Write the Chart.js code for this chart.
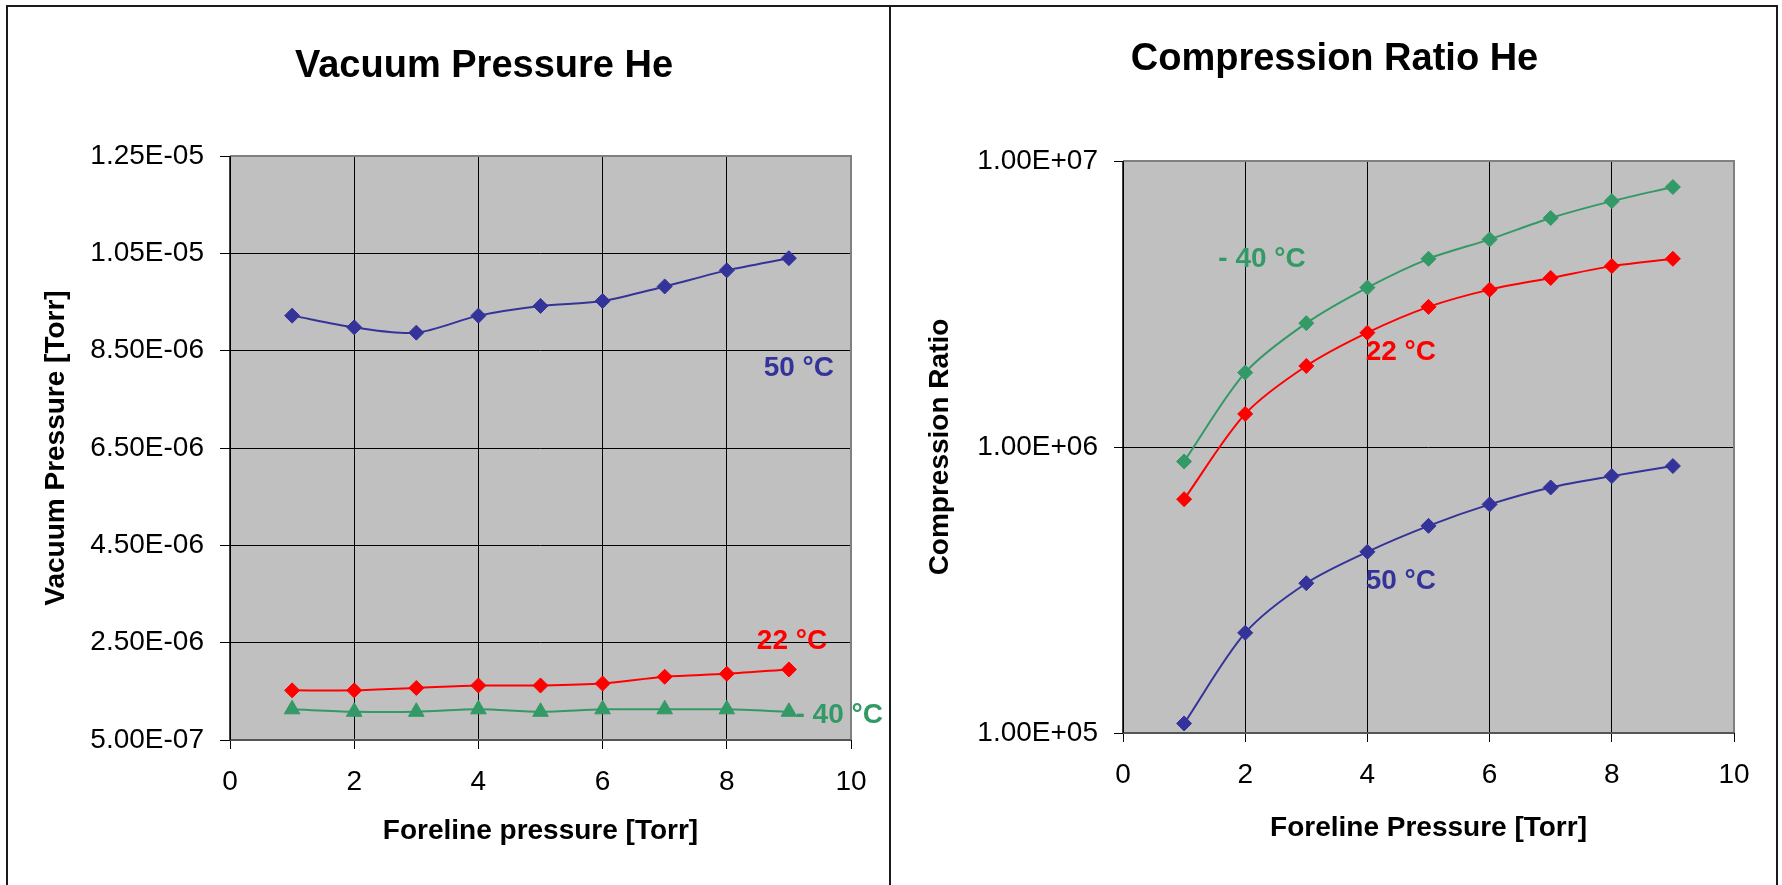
<!DOCTYPE html>
<html><head><meta charset="utf-8">
<script src="https://cdn.jsdelivr.net/npm/chart.js@4.4.0/dist/chart.umd.min.js"></script>
<style>
html,body{margin:0;padding:0;background:#fff;}
#wrap{position:relative;width:1782px;height:885px;overflow:hidden;}
canvas{position:absolute;top:0;}
#c1{left:0}
#c2{left:890px}
.frame{position:absolute;left:6px;top:5px;width:1772px;height:1000px;border:2px solid #1a1a1a;box-sizing:border-box;}
.divider{position:absolute;left:889px;top:5px;width:2px;height:1000px;background:#1a1a1a;}
</style></head>
<body><div id="wrap">
<canvas id="c1" width="890" height="885"></canvas>
<canvas id="c2" width="892" height="885"></canvas>
<div class="frame"></div><div class="divider"></div>
</div>
<script>
// ---- data ----
const foreline = [1, 2, 3, 4, 5, 6, 7, 8, 9];
const vac50  = [9.22e-6, 8.98e-6, 8.87e-6, 9.22e-6, 9.42e-6, 9.52e-6, 9.82e-6, 1.015e-5, 1.040e-5];
const vac22  = [1.52e-6, 1.52e-6, 1.57e-6, 1.62e-6, 1.62e-6, 1.66e-6, 1.80e-6, 1.86e-6, 1.95e-6];
const vacM40 = [1.13e-6, 1.08e-6, 1.08e-6, 1.13e-6, 1.08e-6, 1.13e-6, 1.13e-6, 1.13e-6, 1.08e-6];
const cr50  = [1.08e5, 2.24e5, 3.34e5, 4.30e5, 5.30e5, 6.30e5, 7.22e5, 7.91e5, 8.58e5];
const cr22  = [6.57e5, 1.305e6, 1.92e6, 2.51e6, 3.09e6, 3.55e6, 3.90e6, 4.29e6, 4.55e6];
const crM40 = [8.9e5, 1.82e6, 2.71e6, 3.61e6, 4.55e6, 5.32e6, 6.32e6, 7.24e6, 8.11e6];

const xTicks = [0, 2, 4, 6, 8, 10];
const vacTicks = [5e-7, 2.5e-6, 4.5e-6, 6.5e-6, 8.5e-6, 1.05e-5, 1.25e-5];
const vacTickLabels = ['5.00E-07', '2.50E-06', '4.50E-06', '6.50E-06', '8.50E-06', '1.05E-05', '1.25E-05'];
const crTicks = [1e5, 1e6, 1e7];
const crTickLabels = ['1.00E+05', '1.00E+06', '1.00E+07'];

const seriesNames = ['50 °C', '22 °C', '- 40 °C'];
const colors = ['#333399', '#FF0000', '#339966'];

const FONT = '"Liberation Sans", Arial, sans-serif';
Chart.defaults.font.family = FONT;
Chart.defaults.color = '#000';

function pts(ys) { return foreline.map((x, i) => ({x: x, y: ys[i]})); }

function ds(label, ys, color, style) {
  return {
    label: label, data: pts(ys), borderColor: color, backgroundColor: color,
    borderWidth: 2, pointStyle: style, pointRadius: style === 'triangle' ? 9 : 7.5,
    pointBorderWidth: 1, pointBorderColor: color, tension: 0.3, fill: false
  };
}

function decor(cfg) {
  return {
    id: 'decor' + cfg.name,
    beforeDraw(chart) {
      const {ctx, chartArea: a} = chart;
      ctx.save();
      ctx.fillStyle = '#C0C0C0';
      ctx.fillRect(a.left, a.top, a.right - a.left, a.bottom - a.top);
      ctx.restore();
    },
    beforeDatasetsDraw(chart) {
      const {ctx, chartArea: a} = chart;
      ctx.save();
      ctx.strokeStyle = '#808080'; ctx.lineWidth = 2;
      ctx.beginPath();
      ctx.moveTo(a.left, a.top); ctx.lineTo(a.right, a.top);
      ctx.lineTo(a.right, a.bottom); ctx.stroke();
      ctx.strokeStyle = '#555'; ctx.beginPath();
      ctx.moveTo(a.left, a.bottom); ctx.lineTo(a.right, a.bottom); ctx.stroke();
      ctx.strokeStyle = '#000'; ctx.lineWidth = 1.5;
      ctx.beginPath(); ctx.moveTo(a.left, a.top); ctx.lineTo(a.left, a.bottom); ctx.stroke();
      ctx.restore();
    },
    afterDraw(chart) {
      const {ctx} = chart;
      ctx.save();
      ctx.textBaseline = 'middle';
      ctx.textAlign = 'center';
      ctx.fillStyle = '#000';
      ctx.font = 'bold 38px ' + FONT;
      ctx.fillText(cfg.title, cfg.titleX, cfg.titleY);
      ctx.font = 'bold 28px ' + FONT;
      cfg.labels.forEach(l => {
        ctx.fillStyle = l.color;
        ctx.fillText(l.text, chart.scales.x.getPixelForValue(l.x), chart.scales.y.getPixelForValue(l.y));
      });
      ctx.restore();
    }
  };
}

function xScale(height, title) {
  return {
    type: 'linear', min: 0, max: 10,
    afterBuildTicks: s => { s.ticks = xTicks.map(v => ({value: v})); },
    ticks: { font: {size: 28}, padding: 16, maxRotation: 0, callback: v => String(v) },
    grid: { color: '#000', lineWidth: 1, tickLength: 9, drawTicks: true },
    border: { display: false },
    title: { display: true, text: title, font: {size: 28, weight: 'bold'}, padding: {top: 0, bottom: 0} },
    afterFit: s => { s.height = height; }
  };
}

// ---- chart 1: vacuum pressure ----
new Chart(document.getElementById('c1'), {
  type: 'line',
  data: { datasets: [
    ds(seriesNames[0], vac50, colors[0], 'rectRot'),
    ds(seriesNames[1], vac22, colors[1], 'rectRot'),
    ds(seriesNames[2], vacM40, colors[2], 'triangle')
  ]},
  options: {
    responsive: false, animation: false, devicePixelRatio: 1,
    layout: { padding: { left: 0, right: 39, top: 156, bottom: 37 } },
    plugins: { legend: {display: false}, title: {display: false}, tooltip: {enabled: false} },
    scales: {
      x: xScale(108, 'Foreline pressure [Torr]'),
      y: {
        type: 'linear', min: vacTicks[0], max: vacTicks[vacTicks.length - 1],
        afterBuildTicks: s => { s.ticks = vacTicks.map(v => ({value: v})); },
        ticks: { font: {size: 28}, padding: 16, callback: (v, i) => vacTickLabels[i] },
        grid: { color: '#000', lineWidth: 1, tickLength: 10, drawTicks: true },
        border: { display: false },
        title: { display: true, text: 'Vacuum Pressure [Torr]', font: {size: 28, weight: 'bold'}, padding: {top: 39, bottom: 0} },
        afterFit: s => { s.width = 230; }
      }
    }
  },
  plugins: [decor({
    name: 'A', title: 'Vacuum Pressure He', titleX: 484, titleY: 67,
    labels: [
      {text: seriesNames[0], color: colors[0], x: 9.16, y: 8.13e-6},
      {text: seriesNames[1], color: colors[1], x: 9.05, y: 2.52e-6},
      {text: seriesNames[2], color: colors[2], x: 9.81, y: 1.0e-6}
    ]
  })]
});

// ---- chart 2: compression ratio ----
new Chart(document.getElementById('c2'), {
  type: 'line',
  data: { datasets: [
    ds(seriesNames[0], cr50, colors[0], 'rectRot'),
    ds(seriesNames[1], cr22, colors[1], 'rectRot'),
    ds(seriesNames[2], crM40, colors[2], 'rectRot')
  ]},
  options: {
    responsive: false, animation: false, devicePixelRatio: 1,
    layout: { padding: { left: 0, right: 48, top: 161, bottom: 40 } },
    plugins: { legend: {display: false}, title: {display: false}, tooltip: {enabled: false} },
    scales: {
      x: xScale(112, 'Foreline Pressure [Torr]'),
      y: {
        type: 'logarithmic', min: crTicks[0], max: crTicks[crTicks.length - 1],
        afterBuildTicks: s => { s.ticks = crTicks.map(v => ({value: v})); },
        ticks: { font: {size: 28}, padding: 16, callback: (v, i) => crTickLabels[i] },
        grid: { color: '#000', lineWidth: 1, tickLength: 9, drawTicks: true },
        border: { display: false },
        title: { display: true, text: 'Compression Ratio', font: {size: 28, weight: 'bold'}, padding: {top: 33, bottom: 0} },
        afterFit: s => { s.width = 233; }
      }
    }
  },
  plugins: [decor({
    name: 'B', title: 'Compression Ratio He', titleX: 444.5, titleY: 60,
    labels: [
      {text: seriesNames[0], color: colors[0], x: 4.547, y: 3.39e5},
      {text: seriesNames[1], color: colors[1], x: 4.547, y: 2.136e6},
      {text: seriesNames[2], color: colors[2], x: 2.275, y: 4.52e6}
    ]
  })]
});
</script>
</body></html>
